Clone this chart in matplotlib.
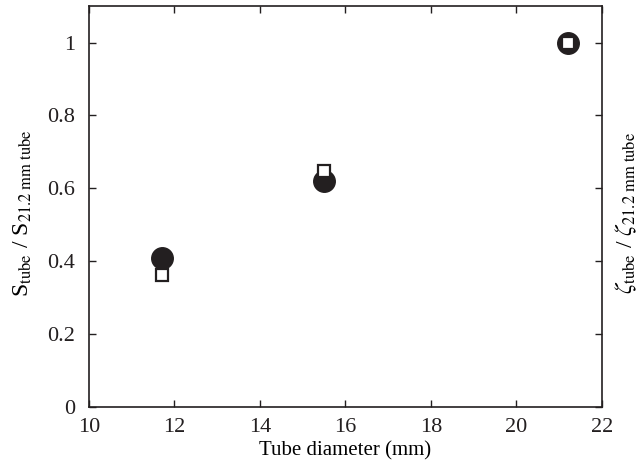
import numpy as np
import matplotlib.pyplot as plt

# tube diameters (mm)
diam = [11.7, 15.5, 21.2]
# normalised S (filled circles)
s_ratio = [0.408, 0.621, 1.0]
# normalised zeta (open squares)
zeta_ratio = [0.362, 0.648, 1.0]

plt.rcParams['font.family'] = ['Liberation Serif', 'DejaVu Serif']
plt.rcParams['mathtext.fontset'] = 'stix'

fig = plt.figure(figsize=(6.39, 4.69), dpi=100)
ax = fig.add_axes([0.139, 0.132, 0.803, 0.855])

ax.plot(diam, s_ratio, 'o', color='#231f20', markersize=15.5, zorder=3)
ax.plot(diam, zeta_ratio, 's', markerfacecolor='white', markeredgecolor='#231f20',
        markersize=8, markeredgewidth=1.6, zorder=4)

ax.set_xlim(10, 22)
ax.set_ylim(0, 1.1)
ax.set_xticks(np.arange(10, 23, 2))
ax.set_yticks([0, 0.2, 0.4, 0.6, 0.8, 1])
ax.set_yticklabels(['0', '0.2', '0.4', '0.6', '0.8', '1'])
ax.tick_params(direction='in', length=5, width=1, top=True, right=True,
               labelsize=16, colors='#231f20')
ax.tick_params(axis='x', pad=8)
ax.tick_params(axis='y', pad=10)
for sp in ax.spines.values():
    sp.set_linewidth(1.2)
    sp.set_color('#231f20')

ax.set_xlabel('Tube diameter (mm)', fontsize=15, labelpad=3)
fig.text(23 / 639, 0.545, r'S$_{\mathrm{tube}}$ / S$_{\mathrm{21.2\ mm\ tube}}$',
         rotation=90, fontsize=17, ha='center', va='center')
fig.text(626 / 639, 0.547, r'$\zeta_{\mathrm{tube}}$ / $\zeta_{\mathrm{21.2\ mm\ tube}}$',
         rotation=90, fontsize=17, ha='center', va='center')

fig.savefig('out.png', dpi=100)
